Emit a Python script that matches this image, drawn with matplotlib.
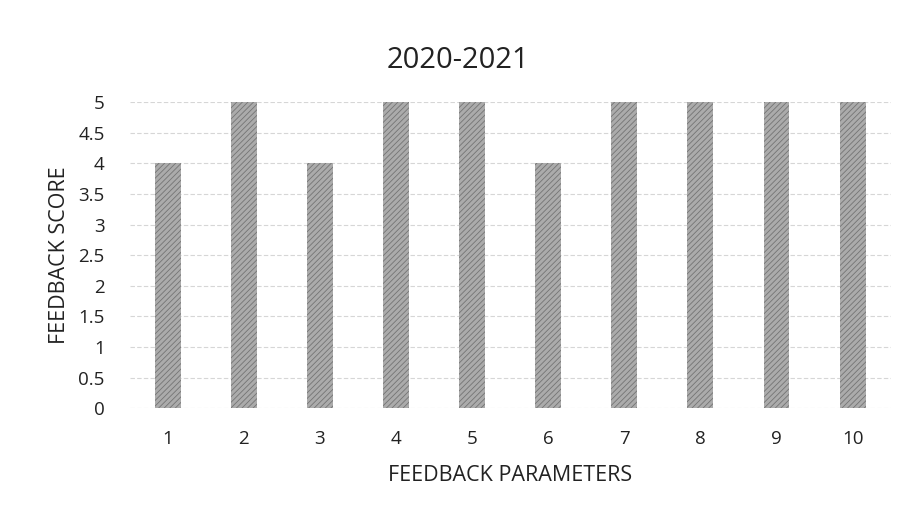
import matplotlib.pyplot as plt
import numpy as np

plt.rcParams["font.family"] = ["Open Sans", "DejaVu Sans"]
plt.rcParams["hatch.linewidth"] = 0.6

parameters = ["1", "2", "3", "4", "5", "6", "7", "8", "9", "10"]
scores = [4, 5, 4, 5, 5, 4, 5, 5, 5, 5]
y_ticks = [0, 0.5, 1, 1.5, 2, 2.5, 3, 3.5, 4, 4.5, 5]
y_labels = ["0", "0.5", "1", "1.5", "2", "2.5", "3", "3.5", "4", "4.5", "5"]

fig = plt.figure(figsize=(9.07, 5.14), dpi=100)
ax = fig.add_axes([0.143, 0.206, 0.839, 0.595])

x = np.arange(len(parameters))
ax.bar(x, scores, width=0.34, color="#ababab", edgecolor="#747474",
       hatch="//////", linewidth=0, zorder=3)

ax.set_xlim(-0.5, len(parameters) - 0.5)
ax.set_ylim(0, 5)
ax.set_yticks(y_ticks)
ax.set_yticklabels(y_labels)
ax.set_xticks(x)
ax.set_xticklabels(parameters)
ax.tick_params(length=0, labelsize=13.5, colors="#222222")
ax.tick_params(axis="x", pad=16)
ax.tick_params(axis="y", pad=18)

ax.grid(axis="y", color="#d6d6d6", linewidth=0.8, linestyle=(0, (4, 2)), zorder=0)
for s in ax.spines.values():
    s.set_visible(False)

fig.text(458 / 907, 1 - 60 / 514, "2020-2021", fontsize=21, color="#222222",
         ha="center", va="center")
ax.set_xlabel("FEEDBACK PARAMETERS", fontsize=15.5, color="#222222", labelpad=12)
ax.set_ylabel("FEEDBACK SCORE", fontsize=15.5, color="#222222", labelpad=6)

fig.savefig("out.png", dpi=100)
